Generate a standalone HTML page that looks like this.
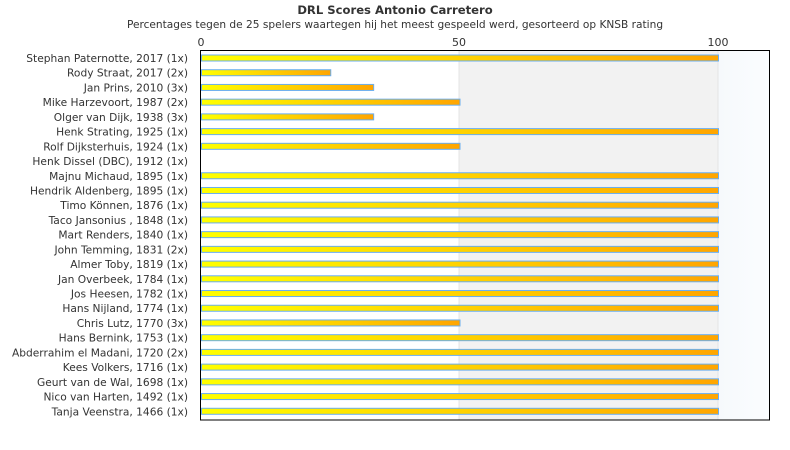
<!DOCTYPE html>
<html><head><meta charset="utf-8"><style>
body{margin:0;background:#fff;}
svg{display:block;font-family:"DejaVu Sans","Liberation Sans",sans-serif;}
</style></head><body>
<svg width="790" height="450" viewBox="0 0 790 450" xmlns="http://www.w3.org/2000/svg">
<defs>
<linearGradient id="g" x1="0" x2="1" y1="0" y2="0"><stop offset="0" stop-color="#ffff00"/><stop offset="1" stop-color="#ffa500"/></linearGradient>
<linearGradient id="b" x1="0" x2="1"><stop offset="0" stop-color="#f6f9fc"/><stop offset="1" stop-color="#fbfdff"/></linearGradient>
</defs>
<text x="395" y="14" text-anchor="middle" font-size="11.6" font-weight="bold" fill="#333">DRL Scores Antonio Carretero</text>
<text x="395" y="28" text-anchor="middle" font-size="10.6" fill="#333">Percentages tegen de 25 spelers waartegen hij het meest gespeeld werd, gesorteerd op KNSB rating</text>
<rect x="459" y="50" width="259" height="370" fill="#f2f2f2"/>
<rect x="718" y="50" width="52" height="370" fill="url(#b)"/>
<line x1="459" y1="50" x2="459" y2="420" stroke="#e4e4e4"/>
<line x1="718" y1="50" x2="718" y2="420" stroke="#e4e4e4"/>
<text x="201" y="46" text-anchor="middle" font-size="11" fill="#333">0</text>
<text x="459" y="46" text-anchor="middle" font-size="11" fill="#333">50</text>
<text x="718" y="46" text-anchor="middle" font-size="11" fill="#333">100</text>
<g id="rows" font-size="10.65" fill="#333"></g>
<rect x="200.5" y="50.5" width="569" height="369.5" fill="none" stroke="#000"/>
</svg>
<script>
var d=[["Stephan Paternotte, 2017 (1x)",100],["Rody Straat, 2017 (2x)",25],["Jan Prins, 2010 (3x)",33.3],["Mike Harzevoort, 1987 (2x)",50],["Olger van Dijk, 1938 (3x)",33.3],["Henk Strating, 1925 (1x)",100],["Rolf Dijksterhuis, 1924 (1x)",50],["Henk Dissel (DBC), 1912 (1x)",0],["Majnu Michaud, 1895 (1x)",100],["Hendrik Aldenberg, 1895 (1x)",100],["Timo Können, 1876 (1x)",100],["Taco Jansonius , 1848 (1x)",100],["Mart Renders, 1840 (1x)",100],["John Temming, 1831 (2x)",100],["Almer Toby, 1819 (1x)",100],["Jan Overbeek, 1784 (1x)",100],["Jos Heesen, 1782 (1x)",100],["Hans Nijland, 1774 (1x)",100],["Chris Lutz, 1770 (3x)",50],["Hans Bernink, 1753 (1x)",100],["Abderrahim el Madani, 1720 (2x)",100],["Kees Volkers, 1716 (1x)",100],["Geurt van de Wal, 1698 (1x)",100],["Nico van Harten, 1492 (1x)",100],["Tanja Veenstra, 1466 (1x)",100]];
var g=document.getElementById("rows"),s="";
d.forEach(function(r,i){var y=58+i*14.72;
s+='<text x="188" y="'+(y+4)+'" text-anchor="end">'+r[0]+'</text>';
if(r[1]>0){var w=r[1]*5.17;s+='<rect x="201.5" y="'+(y-3)+'" width="'+w+'" height="6" fill="url(#g)" stroke="#6aaeef" stroke-width="1"/>';}
});
g.innerHTML=s;
</script>
</body></html>
